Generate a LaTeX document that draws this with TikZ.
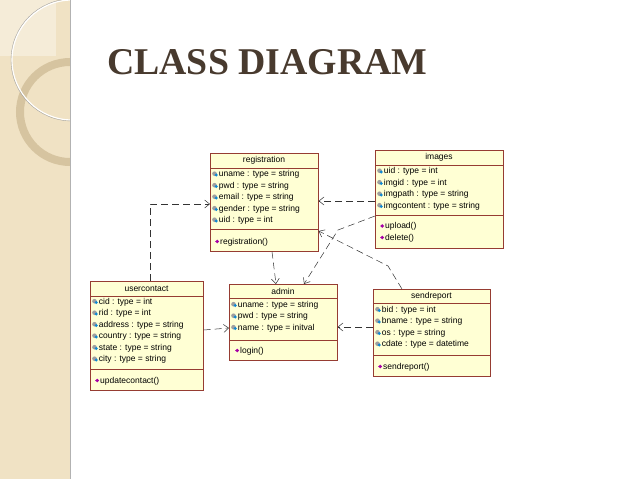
\documentclass[tikz,border=0pt]{standalone}
\usepackage{fontspec}
\setmainfont{Liberation Serif}
\newfontfamily\umlfont{Liberation Sans}
\usetikzlibrary{arrows.meta,calc,positioning}

\definecolor{strip}{RGB}{240,226,196}
\definecolor{ring}{RGB}{214,196,160}
\definecolor{titlecol}{RGB}{72,58,46}
\definecolor{classfill}{RGB}{255,255,212}
\definecolor{classline}{RGB}{150,60,50}

\newcommand{\atic}{\tikz[baseline=-0.6ex]{\fill[gray!75] (0,0.3pt) circle (2.3pt); \fill[cyan!70!blue] (1.8pt,-1pt) circle (1.6pt);}\hspace{1pt}}
\newcommand{\mtic}{\tikz[baseline=-0.6ex]{\fill[violet!70!magenta] (0,0) -- (2pt,1.8pt) -- (4pt,0) -- (2pt,-1.8pt) -- cycle;}\hspace{1pt}}

\begin{document}
\begin{tikzpicture}[x=1pt,y=-1pt,
    classbox/.style={draw=classline, fill=classfill, line width=0.6pt, anchor=north west, inner sep=0pt},
    sepline/.style={draw=classline, line width=0.6pt},
    ctitle/.style={font=\umlfont\fontsize{8.5}{10}\selectfont},
    member/.style={font=\umlfont\fontsize{8.5}{10}\selectfont, anchor=west, inner sep=0pt},
    dep/.style={draw=black!80, line width=0.5pt, dash pattern=on 7pt off 4pt, -{Straight Barb[length=5pt,width=8pt]}}]
  \useasboundingbox (0,0) rectangle (638,479);
  \fill[white] (0,0) rectangle (638,479);
  % side strip
  \fill[strip] (0,0) rectangle (70,479);
  \begin{scope}
    \clip (0,0) rectangle (70,479);
    \fill[white, opacity=0.35] (0,0) rectangle (56,56);
    \draw[ring, line width=8pt] (70,112) circle (50);
    \draw[white, line width=1.2pt] (72,60) circle (60);
    \draw[black!35, line width=0.4pt] (72,60) circle (61);
  \end{scope}
  \draw[black!30, line width=1pt] (70,0) -- (70,479);
  % title
  \node[anchor=west, inner sep=0pt, text=titlecol, font=\bfseries\fontsize{37.8}{40}\selectfont] (title) at (107,62) {CLASS DIAGRAM};

  % registration
  \node[classbox, minimum width=108, minimum height=98] (registration) at (210,153) {};
  \node[ctitle] at (264,160.5) {registration};
  \draw[sepline] (210,168) -- (318,168);
  \foreach \t [count=\i] in {uname : type = string, pwd : type = string, email : type = string, gender : type = string, uid : type = int}
    \node[member] at (212,163+\i*11.5) {\atic\t};
  \draw[sepline] (210,229) -- (318,229);
  \node[member] at (215,242) {\mtic registration()};

  % images
  \node[classbox, minimum width=128, minimum height=98] (images) at (375,150) {};
  \node[ctitle] at (439,157.5) {images};
  \draw[sepline] (375,165) -- (503,165);
  \foreach \t [count=\i] in {uid : type = int, imgid : type = int, imgpath : type = string, imgcontent : type = string}
    \node[member] at (377,160+\i*11.5) {\atic\t};
  \draw[sepline] (375,215) -- (503,215);
  \foreach \t [count=\i] in {upload(), delete()}
    \node[member] at (380,215+\i*11.5) {\mtic\t};

  % usercontact
  \node[classbox, minimum width=113, minimum height=109] (usercontact) at (90,281) {};
  \node[ctitle] at (146.5,288.5) {usercontact};
  \draw[sepline] (90,296) -- (203,296);
  \foreach \t [count=\i] in {cid : type = int, rid : type = int, address : type = string, country : type = string, state : type = string, city : type = string}
    \node[member] at (92,290.5+\i*11.5) {\atic\t};
  \draw[sepline] (90,369) -- (203,369);
  \node[member] at (95,381) {\mtic updatecontact()};

  % admin
  \node[classbox, minimum width=108, minimum height=76] (admin) at (229,284) {};
  \node[ctitle] at (283,291.5) {admin};
  \draw[sepline] (229,298) -- (337,298);
  \foreach \t [count=\i] in {uname : type = string, pwd : type = string, name : type = initval}
    \node[member] at (231,293.5+\i*11.5) {\atic\t};
  \draw[sepline] (229,340) -- (337,340);
  \node[member] at (235,351) {\mtic login()};

  % sendreport
  \node[classbox, minimum width=117, minimum height=87] (sendreport) at (373,289) {};
  \node[ctitle] at (431.5,296.5) {sendreport};
  \draw[sepline] (373,303) -- (490,303);
  \foreach \t [count=\i] in {bid : type = int, bname : type = string, os : type = string, cdate : type = datetime}
    \node[member] at (375,298.5+\i*11.5) {\atic\t};
  \draw[sepline] (373,355) -- (490,355);
  \node[member] at (378,367) {\mtic sendreport()};

  % dependencies
  \draw[dep] (usercontact.north -| 150,0) -- (150,204) -- (registration.west |- 0,204);
  \draw[dep] (images.west |- 0,201) -- (registration.east |- 0,201);
  \draw[dep] (registration.south -| 272,0) -- (admin.north -| 276,0);
  \draw[dep] (images.west |- 0,216) -- (338,230) -- (admin.north -| 304,0);
  \draw[dep] (sendreport.north -| 402,0) -- (388,266) -- (registration.east |- 0,231);
  \draw[dep] (usercontact.east |- 0,330) -- (admin.west |- 0,328);
  \draw[dep] (sendreport.west |- 0,327) -- (admin.east |- 0,327);
\end{tikzpicture}
\end{document}
